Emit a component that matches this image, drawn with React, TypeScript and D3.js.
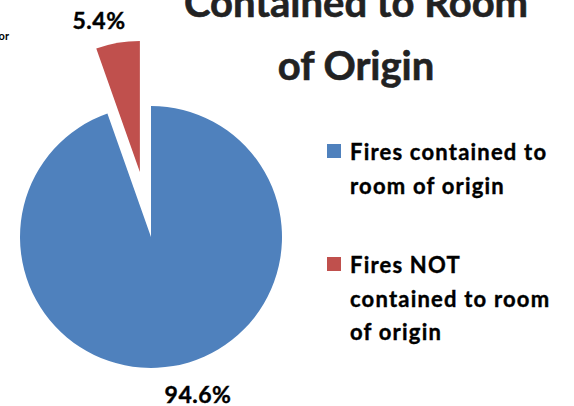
import React from "react";
import * as d3 from "d3";

const categories = ["Fires contained to room of origin", "Fires NOT contained to room of origin"];
const values = [94.6, 5.4];
const valueLabels = ["94.6%", "5.4%"];
const colors = ["#4F81BD", "#C0504D"];
const legendLines = [["Fires contained to", "room of origin"], ["Fires NOT", "contained to room", "of origin"]];
const titleLines = ["Contained to Room", "of Origin"];
const cornerText = "or";
const explode = [0, 66];

const W = 574;
const H = 406;
const cx = 151;
const cy = 237;
const R = 131;
const FONT = "Lato, 'Open Sans', sans-serif";

export default function App() {
  const pie = d3.pie<number>().sort(null).value((d) => d);
  const arcs = pie(values);
  const arc = d3.arc<d3.PieArcDatum<number>>().innerRadius(0).outerRadius(R);
  const labelPos = [
    { x: 198, y: 403 },
    { x: 99, y: 29 },
  ];
  return (
    <svg width={W} height={H} style={{ position: "absolute", left: 0, top: 0, background: "#fff" }} fontFamily={FONT}>
      <rect width={W} height={H} fill="#fff" />
      {arcs.map((a, i) => {
        const mid = (a.startAngle + a.endAngle) / 2;
        const dx = Math.sin(mid) * explode[i];
        const dy = -Math.cos(mid) * explode[i];
        return (
          <path key={i} d={arc(a) || ""} fill={colors[i]} transform={`translate(${cx + dx},${cy + dy})`} />
        );
      })}
      {valueLabels.map((t, i) => (
        <text key={i} x={labelPos[i].x} y={labelPos[i].y} textAnchor="middle" fontSize={23} fontWeight="bold" fill="#000" stroke="#000" strokeWidth={0.4} letterSpacing={0.5}>
          {t}
        </text>
      ))}
      {titleLines.map((t, i) => (
        <text key={i} x={356} y={17 + i * 63} textAnchor="middle" fontSize={40} fontWeight="bold" fill="#222" stroke="#222" strokeWidth={0.6}>
          {t}
        </text>
      ))}
      <text x={9} y={40} textAnchor="end" fontSize={11} fontWeight="bold" fill="#000">
        {cornerText}
      </text>
      {categories.map((c, i) => {
        const top = i === 0 ? 144 : 257;
        return (
          <g key={c}>
            <rect x={327} y={top} width={14} height={14} fill={colors[i]} />
            {legendLines[i].map((l, j) => (
              <text key={j} x={350} y={top + 16 + j * 33.5} fontSize={22} fontWeight="bold" fill="#000" stroke="#000" strokeWidth={0.4} letterSpacing={1.2}>
                {l}
              </text>
            ))}
          </g>
        );
      })}
    </svg>
  );
}
